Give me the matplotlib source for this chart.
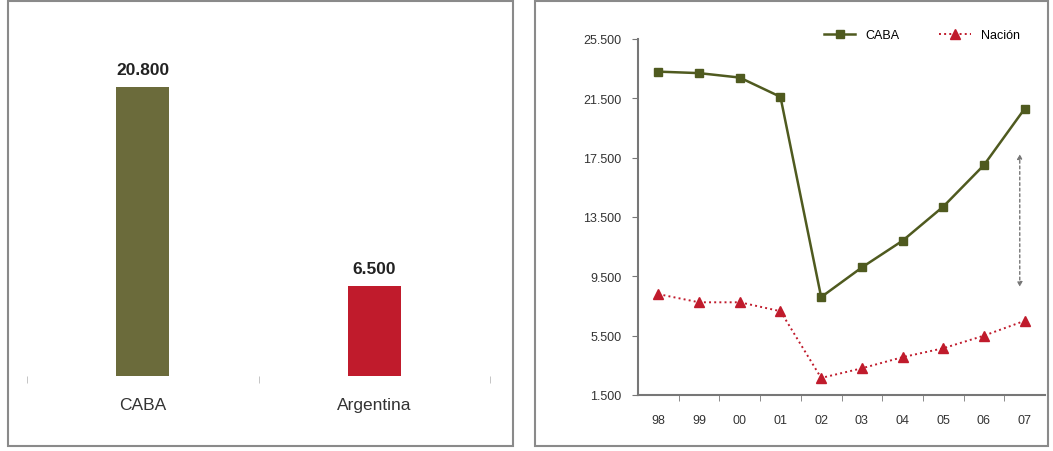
import matplotlib.pyplot as plt
from matplotlib.patches import Rectangle
from matplotlib.ticker import FuncFormatter
import numpy as np

plt.rcParams['font.family'] = ['Liberation Sans', 'DejaVu Sans']

# ---------------- data ----------------
bar_labels = ['CABA', 'Argentina']
bar_values = [20800, 6500]

years = ['98', '99', '00', '01', '02', '03', '04', '05', '06', '07']
caba = [23300, 23200, 22900, 21600, 8100, 10100, 11900, 14200, 17000, 20800]
nacion = [8300, 7750, 7750, 7150, 2650, 3300, 4050, 4650, 5500, 6500]

olive_bar = '#6b6b3b'
olive_line = '#4f5a1f'
red = '#c01b2c'
grey = '#8a8a8a'

fig = plt.figure(figsize=(10.53, 4.52), dpi=100)

# panel borders
for x0, x1 in [(8, 513), (535, 1048)]:
    fig.patches.append(Rectangle((x0 / 1053, 5 / 452), (x1 - x0) / 1053, 445 / 452,
                                 transform=fig.transFigure, fill=False,
                                 edgecolor=grey, lw=1.5))

# ---------------- left: bars ----------------
ax1 = fig.add_axes([27 / 1053, 75 / 452, 463 / 1053, 337 / 452])
xb = np.arange(len(bar_labels))
ax1.bar(xb, bar_values, width=0.23, color=[olive_bar, red])
for x, v in zip(xb, bar_values):
    ax1.text(x, v + 700, f'{v:,}'.replace(',', '.'), ha='center', va='bottom',
             fontsize=12.5, fontweight='bold', color='#222222')
ax1.set_xlim(-0.5, 1.5)
ax1.set_ylim(0, 24250)
ax1.set_xticks(xb)
ax1.set_xticklabels(bar_labels, fontsize=12.5, color='#333333')
ax1.set_xticks([-0.5, 0.5, 1.5], minor=True)
ax1.tick_params(axis='x', which='major', length=0, pad=15)
ax1.tick_params(axis='x', which='minor', length=5, color='#bbbbbb')
ax1.set_yticks([])
for s in ['left', 'right', 'top']:
    ax1.spines[s].set_visible(False)
ax1.spines['bottom'].set_visible(False)

# ---------------- right: lines ----------------
ax2 = fig.add_axes([638 / 1053, 56 / 452, 407 / 1053, 356 / 452])
xl = np.arange(len(years))
ax2.plot(xl, caba, color=olive_line, lw=1.8, marker='s', ms=6, label='CABA')
ax2.plot(xl, nacion, color=red, lw=1.4, ls=':', marker='^', ms=7, label='Nación')

arrow_x, arrow_top, arrow_bottom = 8.88, 17750, 8780
ax2.annotate('', xy=(arrow_x, arrow_top), xytext=(arrow_x, arrow_bottom),
             arrowprops=dict(arrowstyle='<|-|>', ls=(0, (2, 2)), color='#777777',
                             lw=1, mutation_scale=7, shrinkA=0, shrinkB=0))

ax2.set_xlim(-0.5, 9.5)
ax2.set_ylim(1500, 25500)
ax2.set_yticks(np.arange(1500, 25501, 4000))
ax2.yaxis.set_major_formatter(FuncFormatter(lambda v, p: f'{int(v):,}'.replace(',', '.')))
ax2.set_xticks(xl)
ax2.set_xticklabels(years)
ax2.set_xticks(np.arange(0.5, 9, 1), minor=True)
ax2.tick_params(axis='x', which='major', length=0, pad=14, labelsize=9, colors='#333333')
ax2.tick_params(axis='x', which='minor', length=4, color='#777777')
ax2.tick_params(axis='y', length=4, color='#777777', labelsize=9, labelcolor='#333333', pad=8)
for s in ['right', 'top']:
    ax2.spines[s].set_visible(False)
for s in ['left', 'bottom']:
    ax2.spines[s].set_color('#777777')
    ax2.spines[s].set_linewidth(1.5)

ax2.legend(loc='upper right', bbox_to_anchor=(0.965, 1.06), ncol=2, frameon=False,
           fontsize=9, handlelength=2.5, columnspacing=3.2)

fig.savefig('out.png', dpi=100)
